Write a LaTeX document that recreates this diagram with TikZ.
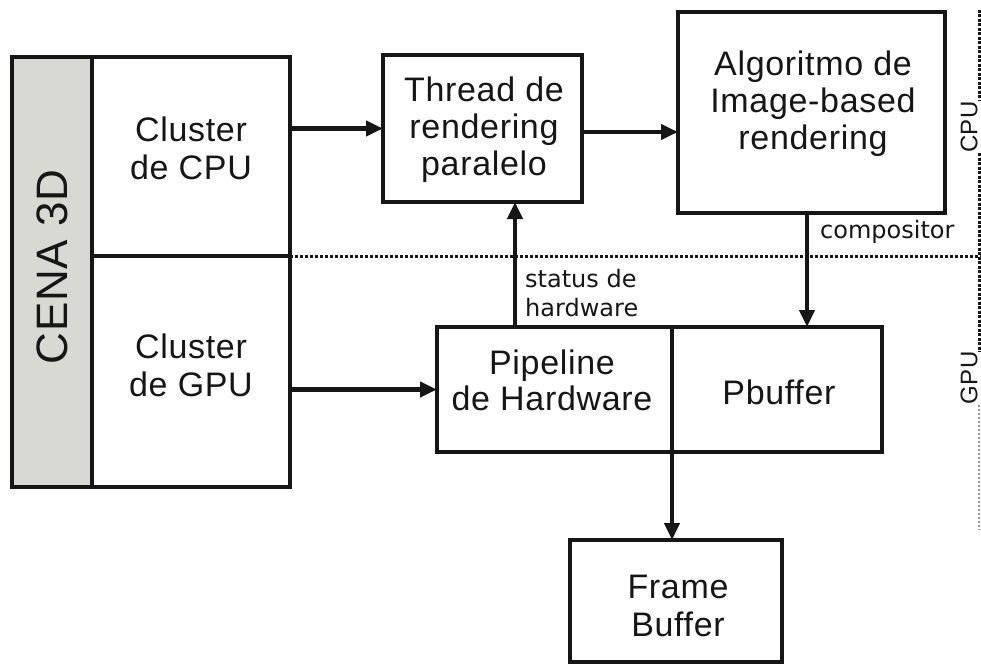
\documentclass[tikz,border=0pt]{standalone}
\usepackage{fontspec}
\setmainfont{Liberation Sans}[LetterSpace=2]
\newfontfamily\lblfont{DejaVu Sans}
\usetikzlibrary{arrows.meta}
\definecolor{bargrey}{RGB}{217,217,212}
\definecolor{ink}{RGB}{22,22,22}
\begin{document}
\begin{tikzpicture}[x=1pt,y=-1pt,
  box/.style={draw=ink, line width=4.3pt, inner sep=0pt, outer sep=0pt, fill=white},
  txt/.style={inner sep=0pt, text=ink, align=center, font=\fontsize{34}{38}\selectfont},
  lbl/.style={inner sep=0pt, text=ink, align=left, anchor=west, font=\lblfont\fontsize{24}{29}\selectfont},
  side/.style={inner sep=0pt, text=ink, rotate=90, font=\fontsize{24}{28}\selectfont},
  arr/.style={draw=ink, line width=4.3pt, -{Triangle[length=17pt,width=15pt]}},
  dotline/.style={draw=ink, line width=3pt, dash pattern=on 3pt off 2pt},
  dense/.style={draw=ink, line width=3pt, dash pattern=on 3pt off 1.5pt},
  faint/.style={draw=ink!45, line width=1.2pt, dash pattern=on 2pt off 2pt}]
\useasboundingbox (0,0) rectangle (981,666);
\clip (0,0) rectangle (981,666);

% boxes
\node[box, fill=bargrey, minimum width=80pt, minimum height=430pt] (cena) at (52,272) {};
\node[box, minimum width=198pt, minimum height=199pt] (cpu) at (191,156.5) {};
\node[box, minimum width=198pt, minimum height=231pt] (gpu) at (191,371.5) {};
\node[box, minimum width=199pt, minimum height=147pt] (thread) at (482.5,128.5) {};
\node[box, minimum width=267pt, minimum height=201pt] (algo) at (811.5,112.5) {};
\node[box, minimum width=235pt, minimum height=125pt] (pipe) at (554.5,389.5) {};
\node[box, minimum width=210pt, minimum height=125pt] (pbuf) at (777,389.5) {};
\node[box, minimum width=212pt, minimum height=122pt] (fb) at (676,601) {};

% texts
\node[txt, rotate=90, font=\fontsize{44}{48}\selectfont] (cenaT) at (52,267) {CENA 3D};
\node[txt] (cpuT) at (191,148) {Cluster\\de CPU};
\node[txt] (gpuT) at (191,365) {Cluster\\de GPU};
\node[txt, font=\fontsize{34}{37}\selectfont] (threadT) at (484,130) {Thread de\\rendering\\paralelo};
\node[txt, font=\fontsize{34}{37}\selectfont] (algoT) at (813,104) {Algoritmo de\\Image-based\\rendering};
\node[txt, font=\fontsize{34}{36}\selectfont] (pipeT) at (552,380) {Pipeline\\de Hardware};
\node[txt] (pbufT) at (779,392) {Pbuffer};
\node[txt] (fbT) at (678,606) {Frame\\Buffer};
\node[lbl] (compT) at (820,232) {compositor};
\node[lbl] (statT) at (525,293) {status de\\hardware};
\node[side] (cpuR) at (969,127) {CPU};
\node[side] (gpuR) at (969,378) {GPU};

% separators
\coordinate (redge) at (981,0);
\coordinate (vtop) at (979,10);
\coordinate (vbot) at (979,530);
\draw[dotline] (cpu.south east) -- (redge |- cpu.south east);
\draw[dense] (vtop) -- (vtop |- cpuR.east);
\draw[dense] (vtop |- cpuR.west) -- (vtop |- gpuR.east);
\draw[faint] (vtop |- gpuR.west) -- (vbot);

% connectors
\coordinate (stx) at (515,0);
\coordinate (cpx) at (807,0);
\draw[arr] (cpu.east |- thread.west) -- (thread.west);
\draw[arr] (thread.east |- 0,132) -- (algo.west |- 0,132);
\draw[arr] (gpu.east |- pipe.west) -- (pipe.west);
\draw[arr] (pipe.north -| stx) -- (thread.south -| stx);
\draw[arr] (algo.south -| cpx) -- (pbuf.north -| cpx);
\draw[arr] (pipe.south east) -- (fb.north -| pipe.south east);
\end{tikzpicture}
\end{document}
